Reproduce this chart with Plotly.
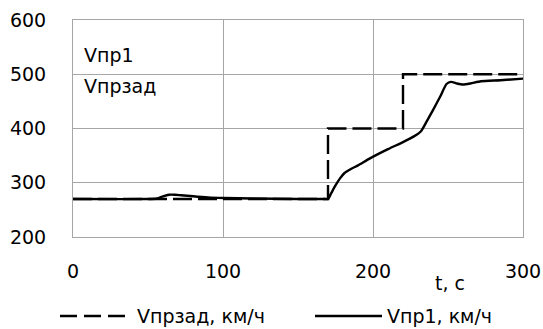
import plotly.graph_objects as go

# Setpoint speed (dashed) and measured speed (solid)
t_set = [0, 170, 170, 220, 220, 300]
v_set = [270, 270, 400, 400, 500, 500]

t_act = [0, 50, 56, 60, 64, 68, 72, 80, 90, 100, 120, 150, 168, 170, 172, 175, 178,
         181, 185, 190, 198, 210, 220, 227, 232, 236, 240, 245, 249, 252, 256, 260,
         265, 272, 285, 300]
v_act = [270, 270, 271, 275, 278, 278, 277, 275, 273, 272, 271, 270, 270, 270, 280,
         295, 308, 318, 325, 332, 345, 362, 375, 385, 395, 414, 434, 460, 482, 486,
         483, 481, 483, 487, 489, 492]

x_ticks = [0, 100, 200, 300]
y_ticks = [200, 300, 400, 500, 600]

legend_names = ["Vпрзад, км/ч", "Vпр1, км/ч"]
inner_labels = ["Vпр1", "Vпрзад"]
x_title = "t, с"

FONT = "DejaVu Sans"
FS = 19
GRID = "#a6a6a6"

fig = go.Figure()
fig.add_trace(go.Scatter(x=t_set, y=v_set, mode="lines",
                         line=dict(color="black", width=2.4, dash="19px,6px"),
                         showlegend=False))
fig.add_trace(go.Scatter(x=t_act, y=v_act, mode="lines", line_shape="spline",
                         line=dict(color="black", width=2.4, smoothing=0.6),
                         showlegend=False))

L, R, T, B = 73, 20, 20, 92
W, H = 543, 329
pw, ph = W - L - R, H - T - B

def px(x):
    return (x - L) / pw

def py(y):
    return (H - B - y) / ph

anns = []
# in-plot labels
anns.append(dict(x=px(82), y=py(55), xref="paper", yref="paper", text=inner_labels[0],
                 showarrow=False, xanchor="left", yanchor="middle"))
anns.append(dict(x=px(82), y=py(86), xref="paper", yref="paper", text=inner_labels[1],
                 showarrow=False, xanchor="left", yanchor="middle"))
# axis title
anns.append(dict(x=px(450), y=py(283), xref="paper", yref="paper", text=x_title,
                 showarrow=False, xanchor="center", yanchor="middle"))
# legend entries
anns.append(dict(x=px(135), y=py(316), xref="paper", yref="paper", text=legend_names[0],
                 showarrow=False, xanchor="left", yanchor="middle"))
anns.append(dict(x=px(385), y=py(316), xref="paper", yref="paper", text=legend_names[1],
                 showarrow=False, xanchor="left", yanchor="middle"))

shapes = [
    dict(type="line", xref="paper", yref="paper", x0=px(60), x1=px(128),
         y0=py(316), y1=py(316), line=dict(color="black", width=2.4, dash="17px,7px")),
    dict(type="line", xref="paper", yref="paper", x0=px(315), x1=px(382),
         y0=py(316), y1=py(316), line=dict(color="black", width=2.4)),
]

fig.update_layout(
    width=W, height=H,
    margin=dict(l=L, r=R, t=T, b=B, autoexpand=False),
    paper_bgcolor="white", plot_bgcolor="white",
    font=dict(family=FONT, size=FS, color="black"),
    annotations=anns, shapes=shapes,
    showlegend=False,
)
fig.update_xaxes(range=[0, 300], tickvals=x_ticks, showgrid=True, gridcolor=GRID,
                 gridwidth=1, showline=True, linecolor=GRID, linewidth=1, mirror=True,
                 zeroline=False, ticks="", ticklabelstandoff=17, automargin=False)
fig.update_yaxes(range=[200, 600], tickvals=y_ticks, showgrid=True, gridcolor=GRID,
                 gridwidth=1, showline=True, linecolor=GRID, linewidth=1, mirror=True,
                 zeroline=False, ticks="", ticklabelstandoff=22, automargin=False)

fig.write_html("out.html")
